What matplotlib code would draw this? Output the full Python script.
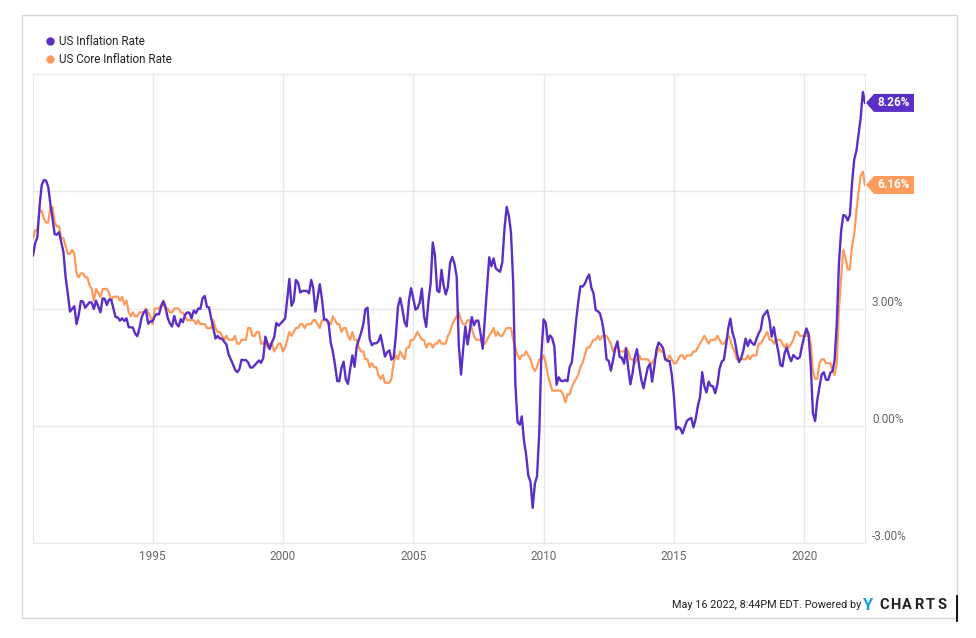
import numpy as np
import pandas as pd
import matplotlib
matplotlib.use("Agg")
import matplotlib.pyplot as plt
import matplotlib.dates as mdates
from matplotlib.lines import Line2D
from matplotlib.patches import Rectangle, Polygon

plt.rcParams['font.family'] = ['Roboto', 'DejaVu Sans']

# monthly year-over-year rates, May 1990 .. Apr 2022 (month end)
cpi = [
    4.36, 4.67, 4.82, 5.62, 6.16, 6.29, 6.27, 6.11,
    5.65, 5.31, 4.90, 4.89, 4.95, 4.70, 4.45, 3.80, 3.39, 2.92, 2.99, 3.06,
    2.60, 2.82, 3.19, 3.18, 3.02, 3.09, 3.16, 3.15, 2.99, 3.20, 3.05, 2.90,
    3.26, 3.25, 3.09, 3.23, 3.22, 3.00, 2.78, 2.77, 2.69, 2.75, 2.68, 2.75,
    2.52, 2.52, 2.51, 2.36, 2.29, 2.49, 2.77, 2.90, 2.96, 2.61, 2.67, 2.67,
    2.80, 2.86, 2.85, 3.05, 3.19, 3.04, 2.76, 2.62, 2.54, 2.81, 2.61, 2.54,
    2.73, 2.65, 2.84, 2.90, 2.89, 2.75, 2.95, 2.88, 3.00, 2.99, 3.26, 3.32,
    3.04, 3.03, 2.76, 2.50, 2.23, 2.30, 2.23, 2.23, 2.15, 2.08, 1.83, 1.70,
    1.57, 1.44, 1.37, 1.44, 1.69, 1.68, 1.68, 1.62, 1.49, 1.49, 1.55, 1.61,
    1.67, 1.61, 1.73, 2.28, 2.09, 1.96, 2.14, 2.26, 2.63, 2.56, 2.62, 2.68,
    2.74, 3.22, 3.76, 3.07, 3.19, 3.73, 3.66, 3.41, 3.45, 3.45, 3.45, 3.39,
    3.73, 3.53, 2.92, 3.27, 3.62, 3.25, 2.72, 2.72, 2.65, 2.13, 1.90, 1.55,
    1.14, 1.14, 1.48, 1.64, 1.18, 1.07, 1.46, 1.80, 1.51, 2.03, 2.20, 2.38,
    2.60, 2.98, 3.02, 2.22, 2.06, 2.11, 2.11, 2.16, 2.32, 2.04, 1.77, 1.88,
    1.93, 1.69, 1.74, 2.29, 3.05, 3.27, 2.99, 2.65, 2.54, 3.19, 3.52, 3.26,
    2.97, 3.01, 3.15, 3.51, 2.80, 2.53, 3.17, 3.64, 4.69, 4.35, 3.46, 3.42,
    3.99, 3.60, 3.36, 3.55, 4.17, 4.32, 4.15, 3.82, 2.06, 1.31, 1.97, 2.54,
    2.08, 2.42, 2.78, 2.57, 2.69, 2.69, 2.36, 1.97, 2.76, 3.54, 4.31, 4.08,
    4.28, 4.03, 3.98, 3.94, 4.18, 5.02, 5.60, 5.37, 4.94, 3.66, 1.07, 0.09,
    0.03, 0.24, -0.38, -0.74, -1.28, -1.43, -2.10, -1.48, -1.29, -0.18, 1.84, 2.72,
    2.63, 2.14, 2.31, 2.24, 2.02, 1.05, 1.24, 1.15, 1.14, 1.17, 1.14, 1.50,
    1.63, 2.11, 2.68, 3.16, 3.57, 3.56, 3.63, 3.77, 3.87, 3.53, 3.39, 2.96,
    2.93, 2.87, 2.65, 2.30, 1.70, 1.66, 1.41, 1.69, 1.99, 2.16, 1.76, 1.74,
    1.59, 1.98, 1.47, 1.06, 1.36, 1.75, 1.96, 1.52, 1.18, 0.96, 1.24, 1.50,
    1.58, 1.13, 1.51, 1.95, 2.13, 2.07, 1.99, 1.70, 1.66, 1.66, 1.32, 0.76,
    -0.09, -0.03, -0.07, -0.20, -0.04, 0.12, 0.17, 0.20, -0.04, 0.17, 0.50, 0.73,
    1.37, 1.02, 0.85, 1.13, 1.02, 1.01, 0.83, 1.06, 1.46, 1.64, 1.69, 2.07,
    2.50, 2.74, 2.38, 2.20, 1.87, 1.63, 1.73, 1.94, 2.23, 2.04, 2.20, 2.11,
    2.07, 2.21, 2.36, 2.46, 2.80, 2.87, 2.95, 2.70, 2.28, 2.52, 2.18, 1.91,
    1.55, 1.52, 1.86, 2.00, 1.79, 1.65, 1.81, 1.75, 1.71, 1.76, 2.05, 2.29,
    2.49, 2.33, 1.54, 0.33, 0.12, 0.65, 0.99, 1.31, 1.37, 1.18, 1.17, 1.36,
    1.40, 1.68, 2.62, 4.16, 4.99, 5.39, 5.37, 5.25, 5.39, 6.22, 6.81, 7.04,
    7.48, 7.87, 8.54, 8.26,
]

core = [
    4.8, 5.0, 5.0, 5.5, 5.5, 5.3, 5.2, 5.2,
    5.6, 5.6, 5.2, 5.1, 5.1, 4.8, 4.8, 4.6, 4.4, 4.4, 4.5, 4.4,
    3.9, 3.8, 3.9, 3.9, 3.8, 3.8, 3.6, 3.5, 3.2, 3.5, 3.4, 3.3,
    3.5, 3.5, 3.5, 3.4, 3.2, 3.3, 3.3, 3.3, 3.2, 3.3, 3.1, 3.2,
    2.9, 2.8, 2.9, 2.8, 2.8, 2.9, 2.9, 2.9, 3.0, 2.9, 2.8, 2.6,
    3.0, 3.0, 3.0, 3.1, 3.1, 3.0, 3.0, 2.9, 2.9, 3.0, 3.0, 3.0,
    2.9, 2.9, 2.8, 2.7, 2.7, 2.7, 2.7, 2.6, 2.7, 2.6, 2.6, 2.6,
    2.5, 2.5, 2.5, 2.7, 2.5, 2.4, 2.4, 2.3, 2.2, 2.3, 2.2, 2.2,
    2.2, 2.3, 2.1, 2.1, 2.2, 2.2, 2.2, 2.5, 2.5, 2.3, 2.3, 2.4,
    2.4, 2.1, 2.1, 2.2, 2.0, 2.1, 2.1, 1.9, 2.0, 2.1, 2.1, 1.9,
    2.0, 2.2, 2.4, 2.3, 2.4, 2.5, 2.5, 2.6, 2.6, 2.5, 2.6, 2.6,
    2.6, 2.7, 2.7, 2.6, 2.5, 2.7, 2.7, 2.7, 2.6, 2.6, 2.8, 2.7,
    2.6, 2.6, 2.4, 2.5, 2.5, 2.3, 2.2, 2.4, 2.2, 2.2, 2.0, 1.9,
    1.9, 1.7, 1.7, 1.5, 1.6, 1.5, 1.5, 1.3, 1.2, 1.3, 1.1, 1.1,
    1.1, 1.2, 1.6, 1.8, 1.7, 1.9, 1.8, 1.7, 2.0, 2.0, 2.2, 2.2,
    2.3, 2.4, 2.3, 2.2, 2.2, 2.0, 2.1, 2.1, 2.0, 2.1, 2.1, 2.2,
    2.1, 2.1, 2.1, 2.3, 2.4, 2.6, 2.7, 2.8, 2.9, 2.7, 2.6, 2.6,
    2.7, 2.7, 2.5, 2.3, 2.2, 2.2, 2.2, 2.1, 2.1, 2.2, 2.3, 2.4,
    2.5, 2.3, 2.4, 2.3, 2.3, 2.4, 2.5, 2.5, 2.5, 2.2, 2.0, 1.8,
    1.7, 1.8, 1.8, 1.9, 1.8, 1.7, 1.5, 1.4, 1.5, 1.7, 1.7, 1.8,
    1.6, 1.3, 1.1, 0.9, 0.9, 0.9, 0.9, 0.9, 0.8, 0.6, 0.8, 0.8,
    1.0, 1.1, 1.2, 1.3, 1.5, 1.6, 1.8, 2.0, 2.0, 2.1, 2.2, 2.2,
    2.3, 2.2, 2.3, 2.3, 2.3, 2.2, 2.1, 1.9, 2.0, 2.0, 1.9, 1.9,
    1.9, 2.0, 1.9, 1.7, 1.7, 1.6, 1.7, 1.8, 1.7, 1.7, 1.7, 1.7,
    1.6, 1.6, 1.7, 1.8, 2.0, 1.9, 1.9, 1.7, 1.7, 1.8, 1.7, 1.6,
    1.6, 1.7, 1.8, 1.8, 1.7, 1.8, 1.8, 1.8, 1.9, 1.9, 2.0, 2.1,
    2.2, 2.3, 2.2, 2.1, 2.2, 2.2, 2.2, 2.3, 2.2, 2.1, 2.1, 2.2,
    2.3, 2.2, 2.0, 1.9, 1.7, 1.7, 1.7, 1.7, 1.7, 1.8, 1.7, 1.8,
    1.8, 1.8, 2.1, 2.1, 2.2, 2.3, 2.4, 2.2, 2.2, 2.1, 2.2, 2.2,
    2.2, 2.1, 2.0, 2.1, 2.0, 2.1, 2.2, 2.4, 2.4, 2.3, 2.3, 2.3,
    2.3, 2.4, 2.1, 1.4, 1.2, 1.2, 1.6, 1.7, 1.7, 1.6, 1.6, 1.6,
    1.4, 1.3, 1.6, 3.0, 3.8, 4.5, 4.3, 4.0, 4.0, 4.6, 4.9, 5.5,
    6.0, 6.4, 6.5, 6.16,
]

# month-end dates
dates = pd.date_range('1990-06-01', periods=len(cpi), freq='MS') - pd.Timedelta(days=1)

PURPLE = '#5b2ec6'
ORANGE = '#fd9b5c'
GRID = '#e8e8e8'
W, H = 976, 638

fig = plt.figure(figsize=(9.76, 6.38), dpi=100)
ax = fig.add_axes([33/W, 1-543/H, (865-33)/W, (543-74)/H])

ax.plot(dates, core, color=ORANGE, lw=1.6, zorder=3)
ax.plot(dates, cpi, color=PURPLE, lw=1.7, zorder=4)

ax.set_xlim(dates[0], dates[-1])
ax.set_ylim(-3, 9)

ax.xaxis.set_major_locator(mdates.YearLocator(5))
ax.xaxis.set_major_formatter(mdates.DateFormatter('%Y'))
ax.set_yticks([-3, 0, 3, 6, 9])
ax.yaxis.tick_right()
ax.set_yticklabels(['-3.00%', '0.00%', '3.00%', '', ''])
ax.grid(True, color=GRID, lw=1)
ax.tick_params(length=0, labelsize=8.5, labelcolor='#666666')
ax.tick_params(axis='y', pad=5)
ax.tick_params(axis='x', pad=5)
for lab in ax.get_yticklabels():
    lab.set_verticalalignment('bottom')
for s in ax.spines.values():
    s.set_color(GRID)

# value tags on the right edge (flag shape, drawn in pixels)
for val, col in [(cpi[-1], PURPLE), (core[-1], ORANGE)]:
    yp = ax.transData.transform((0, val))[1]
    x0 = 866
    tag = Polygon([(x0, yp), (x0 + 8, yp + 9), (x0 + 48, yp + 9),
                   (x0 + 48, yp - 9), (x0 + 8, yp - 9)],
                  closed=True, fc=col, ec='none', transform=None,
                  clip_on=False)
    fig.patches.append(tag)
    fig.text((x0 + 28) / W, yp / H, '%.2f%%' % val, ha='center', va='center',
             color='white', fontsize=8.5, fontweight='bold')

# legend
handles = [Line2D([], [], marker='o', ls='', color=PURPLE, markersize=5),
           Line2D([], [], marker='o', ls='', color=ORANGE, markersize=5)]
fig.legend(handles, ['US Inflation Rate', 'US Core Inflation Rate'],
           loc='upper left', bbox_to_anchor=(38/W, 1-29/H), frameon=False,
           fontsize=8.4, handletextpad=0.3, labelspacing=0.45, handlelength=1.0,
           borderpad=0, labelcolor='#222222')

# outer frame
fig.patches.append(Rectangle((22/W, 1-618/H), (957-22)/W, (618-15)/H,
                             transform=fig.transFigure, fill=False,
                             ec='#d6d6d6', lw=1))
fig.lines.append(Line2D([957/W, 957/W], [1-596/H, 1-621/H],
                        transform=fig.transFigure, color='black', lw=1.3))

# footer
fig.text(861/W, 1-605/H, 'May 16 2022, 8:44PM EDT. Powered by',
         ha='right', va='center', fontsize=7.8, color='#222222')
fig.text(862/W, 1-605/H, 'Y', ha='left', va='center', fontsize=12,
         fontweight='bold', color='#1e9be8')
for i, ch in enumerate('CHARTS'):
    fig.text((884 + i * 11.6)/W, 1-605/H, ch, ha='center', va='center',
             fontsize=10.5, fontweight='bold', color='#222222')

fig.savefig('out.png', dpi=100)
